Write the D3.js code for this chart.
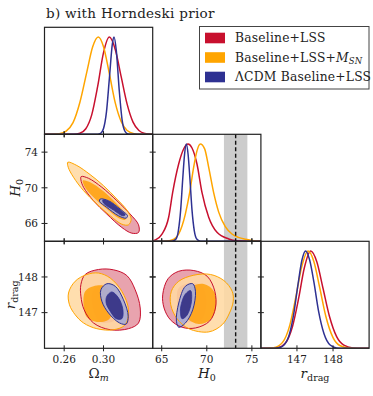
<!DOCTYPE html>
<html>
<head>
<meta charset="utf-8">
<script src="https://cdn.jsdelivr.net/npm/d3@7"></script>
<style>
  body { margin: 0; background: #fff; }
</style>
</head>
<body>
<svg id="chart" width="373" height="396" font-family="DejaVu Serif, Liberation Serif, serif"></svg>
<script>
// ---- data ----
const seriesNames = ['Baseline+LSS', 'Baseline+LSS+M_SN', 'ΛCDM Baseline+LSS'];

const omegaDomain = [0.24, 0.35];
const h0Domain = [64, 76];
const rdragDomain = [146, 149];

const omegaTicks = [0.26, 0.30];
const h0TicksX = [65, 70, 75];
const h0TicksY = [66, 70, 74];
const rdragTicks = [147, 148];

// SH0ES band and central value
const sh0esBand = [71.9, 74.5];
const sh0esMean = 73.2;

// 1D marginals: [value, normalised density]
const omegaRed1d = [[0.24, 0], [0.27, 0], [0.276, 0.011], [0.282, 0.057], [0.288, 0.20], [0.294, 0.49], [0.300, 0.84], [0.3059, 1], [0.312, 0.87], [0.318, 0.59], [0.324, 0.31], [0.330, 0.125], [0.336, 0.039], [0.342, 0.009], [0.348, 0.002], [0.35, 0]];
const omegaOrange1d = [[0.24, 0], [0.248, 0.001], [0.255, 0.006], [0.262, 0.033], [0.269, 0.12], [0.276, 0.33], [0.283, 0.64], [0.289, 0.90], [0.2947, 1], [0.300, 0.90], [0.306, 0.62], [0.312, 0.32], [0.318, 0.13], [0.324, 0.039], [0.331, 0.007], [0.338, 0.001], [0.35, 0]];
const omegaBlue1d = [[0.24, 0], [0.292, 0], [0.297, 0.010], [0.300, 0.059], [0.303, 0.23], [0.306, 0.58], [0.309, 0.93], [0.3107, 1], [0.313, 0.86], [0.316, 0.45], [0.319, 0.14], [0.322, 0.027], [0.325, 0.003], [0.33, 0], [0.35, 0]];

const h0Red1d = [[64, 0.003], [64.29, 0.013], [65.03, 0.075], [65.77, 0.247], [66.21, 0.5], [66.88, 0.795], [67.43, 0.949], [67.92, 1], [68.36, 0.959], [68.91, 0.795], [69.47, 0.5], [70.21, 0.247], [71.13, 0.092], [72.43, 0.024], [73.3, 0.005], [74.5, 0], [76, 0]];
const h0Orange1d = [[64, 0], [65.5, 0.003], [66.14, 0.013], [66.88, 0.075], [67.62, 0.28], [68.10, 0.50], [68.54, 0.76], [68.91, 0.93], [69.28, 1], [69.76, 0.95], [70.21, 0.76], [70.76, 0.50], [71.32, 0.30], [72.05, 0.15], [72.79, 0.075], [73.5, 0.04], [74.3, 0.02], [75.2, 0.006], [76, 0.001]];
const h0Blue1d = [[64, 0], [66.1, 0], [66.55, 0.02], [66.85, 0.11], [67.1, 0.32], [67.33, 0.64], [67.53, 0.89], [67.73, 1], [67.93, 0.89], [68.13, 0.64], [68.36, 0.32], [68.61, 0.11], [68.91, 0.02], [69.3, 0], [76, 0]];

const rdragRed1d = [[146, 0], [146.2, 0.0005], [146.45, 0.006], [146.68, 0.055], [146.88, 0.23], [147.05, 0.52], [147.2, 0.82], [147.38, 1], [147.55, 0.89], [147.72, 0.62], [147.9, 0.33], [148.1, 0.12], [148.3, 0.032], [148.55, 0.004], [148.8, 0], [149, 0]];
const rdragOrange1d = [[146, 0], [146.1, 0.0005], [146.35, 0.006], [146.6, 0.061], [146.8, 0.236], [146.97, 0.53], [147.12, 0.82], [147.31, 1], [147.47, 0.89], [147.63, 0.625], [147.8, 0.33], [148.0, 0.11], [148.2, 0.026], [148.45, 0.0026], [148.7, 0], [149, 0]];
const rdragBlue1d = [[146, 0], [146.35, 0], [146.55, 0.011], [146.75, 0.10], [146.9, 0.33], [147.03, 0.66], [147.14, 0.91], [147.24, 1], [147.35, 0.91], [147.47, 0.68], [147.6, 0.38], [147.75, 0.15], [147.92, 0.034], [148.1, 0.004], [148.3, 0], [149, 0]];

// 2D contours (95% outer, 68% inner): [x, y] boundary points
const omH0Red95 = [[0.2773, 71.26], [0.2847, 71.07], [0.2983, 70.06], [0.3136, 68.55], [0.3271, 67.05], [0.3356, 65.85], [0.3356, 64.99], [0.3288, 64.91], [0.3186, 65.55], [0.3034, 67.05], [0.2898, 68.55], [0.2797, 70.06], [0.2770, 70.89]];
const omH0Red68 = [[0.2814, 70.62], [0.300, 69.49], [0.3186, 67.50], [0.3203, 66.86], [0.3136, 67.05], [0.2966, 68.37], [0.2803, 70.13]];
const omH0Orange95 = [[0.2637, 72.87], [0.2729, 72.50], [0.2864, 71.48], [0.300, 70.24], [0.3136, 68.74], [0.3237, 67.50], [0.3281, 66.49], [0.3254, 65.85], [0.3186, 65.92], [0.3068, 66.86], [0.2932, 68.18], [0.2797, 69.68], [0.2695, 71.18], [0.2641, 72.31]];
const omH0Orange68 = [[0.2790, 70.81], [0.2864, 70.62], [0.300, 69.61], [0.3136, 68.18], [0.3231, 66.86], [0.3220, 66.41], [0.3152, 66.60], [0.3034, 67.61], [0.2898, 68.93], [0.2803, 70.24]];
const omH0Blue95 = [[0.2966, 68.74], [0.3051, 68.55], [0.3169, 67.61], [0.3244, 66.86], [0.3230, 66.60], [0.3152, 66.86], [0.3034, 67.80], [0.2959, 68.48]];
const omH0Blue68 = [[0.2993, 68.63], [0.3068, 68.37], [0.3169, 67.50], [0.3220, 66.98], [0.3197, 66.86], [0.3102, 67.50], [0.3000, 68.29]];

const omRRed95 = [[0.2770, 147.79], [0.2814, 148.07], [0.2949, 148.21], [0.3102, 148.20], [0.3237, 148.04], [0.3322, 147.64], [0.3373, 147.13], [0.3356, 146.71], [0.3254, 146.55], [0.3068, 146.52], [0.2898, 146.71], [0.2803, 147.08], [0.2770, 147.46]];
const omRRed68 = [[0.2892, 147.60], [0.2966, 147.77], [0.3068, 147.74], [0.3153, 147.46], [0.3186, 146.99], [0.3102, 146.76], [0.2966, 146.74], [0.2898, 147.08]];
const omROrange95 = [[0.2644, 147.55], [0.2712, 147.88], [0.2831, 148.07], [0.2949, 148.11], [0.3068, 147.97], [0.3186, 147.60], [0.3254, 147.08], [0.3220, 146.66], [0.3102, 146.52], [0.2932, 146.55], [0.2797, 146.71], [0.2712, 146.94], [0.2654, 147.22]];
const omROrange68 = [[0.2814, 147.60], [0.2898, 147.74], [0.3017, 147.74], [0.3085, 147.50], [0.3102, 147.13], [0.3051, 146.80], [0.2932, 146.74], [0.2831, 146.87], [0.2797, 147.22]];
const omRBlue95 = [[0.2973, 147.64], [0.3034, 147.81], [0.3119, 147.74], [0.3203, 147.36], [0.3251, 146.90], [0.3231, 146.68], [0.3163, 146.71], [0.3051, 146.99], [0.2983, 147.32]];
const omRBlue68 = [[0.3034, 147.46], [0.3085, 147.58], [0.3153, 147.41], [0.3197, 147.08], [0.3186, 146.83], [0.3129, 146.83], [0.3068, 147.04], [0.3027, 147.27]];

const hRRed95 = [[65.11, 147.50], [65.70, 147.95], [66.89, 148.16], [68.56, 148.18], [70.04, 148.02], [70.89, 147.60], [70.96, 147.13], [70.30, 146.76], [68.74, 146.57], [67.26, 146.59], [65.96, 146.80], [65.26, 147.13]];
const hRRed68 = [[66.89, 147.69], [68.37, 147.83], [69.48, 147.74], [69.93, 147.32], [69.48, 146.83], [68.19, 146.73], [66.96, 146.80], [66.70, 147.27]];
const hROrange95 = [[66.07, 147.60], [66.89, 147.88], [68.56, 148.05], [70.41, 148.07], [71.89, 147.90], [72.81, 147.60], [72.93, 147.32], [72.52, 146.99], [71.70, 146.66], [70.22, 146.46], [68.00, 146.55], [66.70, 146.83], [66.00, 147.22]];
const hROrange68 = [[67.44, 147.50], [68.37, 147.74], [69.67, 147.80], [70.78, 147.60], [71.04, 147.18], [70.41, 146.80], [69.11, 146.68], [67.81, 146.85], [67.37, 147.18]];
const hRBlue95 = [[67.63, 147.74], [68.44, 147.81], [68.74, 147.60], [68.44, 147.08], [67.63, 146.71], [66.89, 146.59], [66.63, 146.76], [66.89, 147.27]];
const hRBlue68 = [[67.63, 147.52], [68.19, 147.62], [68.30, 147.32], [67.81, 146.93], [67.26, 146.83], [67.07, 147.04], [67.26, 147.32]];

// ---- styles ----
const lineColors = ['#C8102E', '#FFA500', '#2E3192'];
const outerFill = ['#E8A3AE', '#FFD9A3', '#ABABD3'];
const outerOpacity = [1, 0.88, 0.95];
const innerFill = ['#D4475F', '#FFA10A', '#3D3A8A'];
const innerOpacity = [1, 0.85, 1];
const ink = '#222';

// ---- layout ----
const svg = d3.select('#chart');
const L = 44.5, T = 27.3, CW = 108.2, CH = 107;
const colX = i => L + i * CW;
const rowY = j => T + j * CH;

const xScales = [
  d3.scaleLinear().domain(omegaDomain).range([colX(0), colX(1)]),
  d3.scaleLinear().domain(h0Domain).range([colX(1), colX(2)]),
  d3.scaleLinear().domain(rdragDomain).range([colX(2), colX(3)])
];
const yScales = [
  null,
  d3.scaleLinear().domain(h0Domain).range([rowY(2), rowY(1)]),
  d3.scaleLinear().domain(rdragDomain).range([rowY(3), rowY(2)])
];
const densityScale = j => d3.scaleLinear().domain([0, 1.1]).range([rowY(j + 1), rowY(j)]);

const xTicks = [omegaTicks, h0TicksX, rdragTicks];
const yTicks = [null, h0TicksY, rdragTicks];

// clip paths, one per cell
const defs = svg.append('defs');
function clipFor(c, r) {
  const id = `clip-${c}-${r}`;
  if (defs.select('#' + id).empty()) {
    defs.append('clipPath').attr('id', id)
      .append('rect')
      .attr('x', colX(c)).attr('y', rowY(r))
      .attr('width', CW).attr('height', CH);
  }
  return `url(#${id})`;
}

// SH0ES band in the H0 column (diagonal + bottom row)
[1, 2].forEach(r => {
  svg.append('g').attr('clip-path', clipFor(1, r))
    .append('rect')
    .attr('x', xScales[1](sh0esBand[0]))
    .attr('width', xScales[1](sh0esBand[1]) - xScales[1](sh0esBand[0]))
    .attr('y', rowY(r)).attr('height', CH)
    .attr('fill', '#CCCCCC');
});

// 2D panels
const twoD = [
  { c: 0, r: 1, sets: [[omH0Red95, omH0Red68], [omH0Orange95, omH0Orange68], [omH0Blue95, omH0Blue68]] },
  { c: 0, r: 2, sets: [[omRRed95, omRRed68], [omROrange95, omROrange68], [omRBlue95, omRBlue68]] },
  { c: 1, r: 2, sets: [[hRRed95, hRRed68], [hROrange95, hROrange68], [hRBlue95, hRBlue68]] }
];

twoD.forEach(p => {
  const x = xScales[p.c], y = yScales[p.r];
  const g = svg.append('g').attr('clip-path', clipFor(p.c, p.r));
  const path = d3.line()
    .x(d => x(d[0])).y(d => y(d[1]))
    .curve(d3.curveCatmullRomClosed.alpha(0.5));

  p.sets.forEach((s, i) => {
    g.append('path').attr('d', path(s[0]))
      .attr('fill', outerFill[i]).attr('fill-opacity', outerOpacity[i]);
    g.append('path').attr('d', path(s[1]))
      .attr('fill', innerFill[i]).attr('fill-opacity', innerOpacity[i]);
  });
  p.sets.forEach((s, i) => {
    g.append('path').attr('d', path(s[0]))
      .attr('fill', 'none').attr('stroke', lineColors[i]).attr('stroke-width', 1);
  });
  g.append('path').attr('d', path(p.sets[2][1]))
    .attr('fill', 'none').attr('stroke', lineColors[2]).attr('stroke-width', 0.8);
});

// 1D panels
const oneD = [
  { c: 0, curves: [omegaRed1d, omegaOrange1d, omegaBlue1d] },
  { c: 1, curves: [h0Red1d, h0Orange1d, h0Blue1d] },
  { c: 2, curves: [rdragRed1d, rdragOrange1d, rdragBlue1d] }
];

oneD.forEach(p => {
  const x = xScales[p.c], y = densityScale(p.c);
  const g = svg.append('g').attr('clip-path', clipFor(p.c, p.c));
  const line = d3.line().x(d => x(d[0])).y(d => y(d[1])).curve(d3.curveMonotoneX);
  p.curves.forEach((cv, i) => {
    g.append('path').attr('d', line(cv))
      .attr('fill', 'none').attr('stroke', lineColors[i]).attr('stroke-width', 1.5);
  });
});

// SH0ES dashed line
[1, 2].forEach(r => {
  svg.append('line')
    .attr('x1', xScales[1](sh0esMean)).attr('x2', xScales[1](sh0esMean))
    .attr('y1', rowY(r)).attr('y2', rowY(r + 1))
    .attr('stroke', '#111').attr('stroke-width', 1.4)
    .attr('stroke-dasharray', '4,2.5');
});

// frames and ticks
const cells = [[0, 0], [0, 1], [1, 1], [0, 2], [1, 2], [2, 2]];
const frame = svg.append('g');
const tk = 3;
cells.forEach(([c, r]) => {
  frame.append('rect')
    .attr('x', colX(c)).attr('y', rowY(r)).attr('width', CW).attr('height', CH)
    .attr('fill', 'none').attr('stroke', ink).attr('stroke-width', 1.2);

  const x = xScales[c];
  xTicks[c].forEach(t => {
    const px = x(t);
    const edges = c === r ? [rowY(r + 1)] : [rowY(r), rowY(r + 1)];
    edges.forEach(ey => frame.append('line')
      .attr('x1', px).attr('x2', px).attr('y1', ey - tk).attr('y2', ey + tk)
      .attr('stroke', ink).attr('stroke-width', 1));
  });
  if (c !== r) {
    const y = yScales[r];
    yTicks[r].forEach(t => {
      const py = y(t);
      [colX(c), colX(c + 1)].forEach(ex => frame.append('line')
        .attr('x1', ex - tk).attr('x2', ex + tk).attr('y1', py).attr('y2', py)
        .attr('stroke', ink).attr('stroke-width', 1));
    });
  }
});

// tick labels
const labels = svg.append('g').attr('fill', ink).style('font-size', '10.5px');
const xFormats = [d3.format('.2f'), d3.format('d'), d3.format('d')];
xTicks.forEach((ticks, c) => {
  ticks.forEach(t => labels.append('text')
    .attr('x', xScales[c](t)).attr('y', 362.5)
    .attr('text-anchor', 'middle').text(xFormats[c](t)));
});
[1, 2].forEach(r => {
  yTicks[r].forEach(t => labels.append('text')
    .attr('x', 38).attr('y', yScales[r](t) + 3.8)
    .attr('text-anchor', 'end').text(t));
});

// axis titles
function subLabel(sel, main, sub, mainItalic, subItalic) {
  sel.attr('fill', ink).style('font-size', '13.5px');
  sel.append('tspan').text(main).style('font-style', mainItalic ? 'italic' : 'normal');
  sel.append('tspan').text(sub).attr('dy', 3).style('font-size', '9.5px')
    .style('font-style', subItalic ? 'italic' : 'normal');
}
subLabel(svg.append('text').attr('x', colX(0) + CW / 2).attr('y', 378)
  .attr('text-anchor', 'middle'), 'Ω', 'm', false, true);
subLabel(svg.append('text').attr('x', colX(1) + CW / 2).attr('y', 378)
  .attr('text-anchor', 'middle'), 'H', '0', true, false);
subLabel(svg.append('text').attr('x', colX(2) + CW / 2).attr('y', 378)
  .attr('text-anchor', 'middle'), 'r', 'drag', true, false);

subLabel(svg.append('text')
  .attr('transform', `translate(20,${rowY(1) + CH / 2}) rotate(-90)`)
  .attr('text-anchor', 'middle'), 'H', '0', true, false);
subLabel(svg.append('text')
  .attr('transform', `translate(15,${rowY(2) + CH / 2}) rotate(-90)`)
  .attr('text-anchor', 'middle'), 'r', 'drag', true, false);

// title
svg.append('text').attr('x', 46).attr('y', 18.3).attr('fill', ink)
  .style('font-size', '13.5px').style('letter-spacing', '0.3px')
  .text('b) with Horndeski prior');

// legend
const lg = svg.append('g');
lg.append('rect').attr('x', 199.5).attr('y', 26.5).attr('width', 169.5).attr('height', 62.5)
  .attr('fill', '#fff').attr('stroke', '#444').attr('stroke-width', 1);
const legendY = [38, 57.5, 77];
seriesNames.forEach((name, i) => {
  lg.append('rect').attr('x', 205).attr('y', legendY[i] - 5.3)
    .attr('width', 20).attr('height', 10.6).attr('fill', lineColors[i]);
  const t = lg.append('text').attr('x', 235).attr('y', legendY[i] + 4.2)
    .attr('fill', ink).style('font-size', '12.3px').style('letter-spacing', '0.2px');
  if (name.endsWith('M_SN')) {
    t.append('tspan').text(name.replace('M_SN', ''));
    t.append('tspan').text('M').style('font-style', 'italic');
    t.append('tspan').text('SN').attr('dy', 2.5).style('font-size', '8.5px').style('font-style', 'italic');
  } else {
    t.text(name);
  }
});
</script>
</body>
</html>
